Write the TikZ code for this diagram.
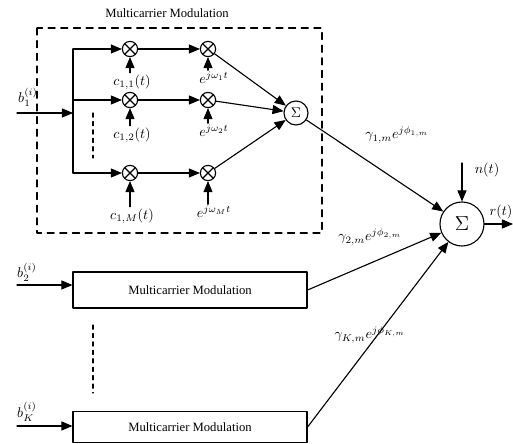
\documentclass[tikz,border=0pt]{standalone}
\usepackage{fontspec}
\setmainfont{Liberation Serif}
\usetikzlibrary{arrows}
\usetikzlibrary{positioning}

\tikzset{
  mult/.style={circle,draw,inner sep=0pt,minimum size=0.38cm,
    path picture={\draw (path picture bounding box.north west) -- (path picture bounding box.south east)
      (path picture bounding box.south west) -- (path picture bounding box.north east);}},
  adder/.style={circle,draw,inner sep=0pt},
  modbox/.style={draw,rectangle,minimum width=5.85cm,inner sep=0pt,font=\fontsize{9}{10}\selectfont},
  lbl/.style={inner sep=1pt}
}

\begin{document}
\begin{tikzpicture}[line cap=round,line join=round,>=triangle 45,x=0.025cm,y=-0.025cm,line width=0.8pt]
\useasboundingbox (0,0) rectangle (513,444);
% first user, detailed
\node[font=\fontsize{9}{10}\selectfont] (title) at (167,13) {Multicarrier Modulation};
\draw[dash pattern=on 5pt off 4pt] (37,28) rectangle (322,233);
\coordinate (in1) at (17,113);
\coordinate (split) at (73,113);
\draw[->] (in1) -- (split);
\node[lbl] (b1) at (28,97) {$b_1^{(i)}$};
\draw (73,49) -- (73,173);
\foreach \y/\k/\ly in {49/1/82,100/2/135,173/M/216}{
  \coordinate (br\k) at (73,\y);
  \node[mult] (ma\k) at (130,\y) {};
  \node[mult] (mb\k) at (208,\y) {};
  \draw[->] (br\k) -- (ma\k);
  \draw[->] (ma\k) -- (mb\k);
  \node[lbl] (ca\k) at (132,\ly) {$c_{1,\k}(t)$};
  \node[lbl] (cb\k) at (214,\ly-4) {$e^{j\omega_\k t}$};
  \draw[->] (ma\k |- ca\k.north) -- (ma\k);
  \draw[->] (mb\k |- cb\k.north) -- (mb\k);
}
\draw[dash pattern=on 3pt off 3pt] (93,113) -- (93,158);
\node[adder,minimum size=0.6cm] (sum1) at (296,113) {$\Sigma$};
\foreach \k in {1,2,M}
\draw[->] (mb\k) -- (sum1);
% receiver side
\node[adder,minimum size=1.1cm,font=\Large] (sum2) at (462,224) {$\Sigma$};
\draw[->] (sum1) -- (sum2);
\node[lbl] (g1) at (397,135) {$\gamma_{1,m}e^{j\phi_{1,m}}$};
\coordinate (noise) at (462,163);
\draw[->] (noise) -- (sum2);
\node[lbl] (nt) at (487,170) {$n(t)$};
\coordinate (out) at (513,224);
\draw[->] (sum2) -- (out);
\node[lbl] (rt) at (501,212) {$r(t)$};
% other users
\node[modbox,minimum height=0.9cm] (mod2) at (190,290) {Multicarrier Modulation};
\node[modbox,minimum height=0.78cm] (modK) at (190,427) {Multicarrier Modulation};
\coordinate (in2) at (17,285);
\coordinate (inK) at (17,426);
\draw[->] (in2) -- (in2 -| mod2.west);
\draw[->] (inK) -- (inK -| modK.west);
\node[lbl] (b2) at (27,272) {$b_2^{(i)}$};
\node[lbl] (bK) at (27,412) {$b_K^{(i)}$};
\draw[dash pattern=on 3pt off 3pt] (93,325) -- (93,393);
\draw[->] (mod2.east) -- (sum2);
\draw[->] (modK.east) -- (sum2);
\node[lbl] (g2) at (370,237) {$\gamma_{2,m}e^{j\phi_{2,m}}$};
\node[lbl] (gK) at (370,335) {$\gamma_{K,m}e^{j\phi_{K,m}}$};
\end{tikzpicture}
\end{document}
